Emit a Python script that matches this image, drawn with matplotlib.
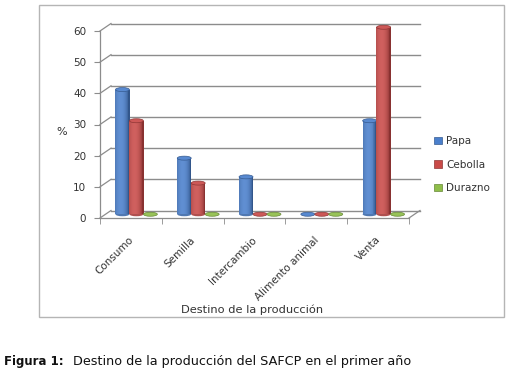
import numpy as np
import matplotlib
matplotlib.use("Agg")
import matplotlib.pyplot as plt
import matplotlib.transforms as mtransforms
from matplotlib.patches import Ellipse, Rectangle, Patch
from matplotlib.lines import Line2D
import matplotlib.colors as mcolors

categories = ["Consumo", "Semilla", "Intercambio", "Alimento animal", "Venta"]
series_names = ["Papa", "Cebolla", "Durazno"]
papa = [40, 18, 12, 0, 30]
cebolla = [30, 10, 0, 0, 60]
durazno = [0, 0, 0, 0, 0]
yticks = [0, 10, 20, 30, 40, 50, 60]
ylabel = "%"
xlabel = "Destino de la producción"
caption_bold = "Figura 1:"
caption = "Destino de la producción del SAFCP en el primer año"

colors = ["#4A7FCC", "#C94A48", "#8FBE4A"]

W, H = 518, 379
DPI = 100
fig = plt.figure(figsize=(W / DPI, H / DPI), dpi=DPI)

def fx(px):
    return px / W

def fy(py):
    return 1 - py / H

# front plane of the axes
x0, x1 = 100, 409
y0, y1 = 218, 31
ax = fig.add_axes([fx(x0), fy(y0), fx(x1) - fx(x0), fy(y1) - fy(y0)])
ax.set_xlim(-0.5, 4.5)
ax.set_ylim(0, 60)
ax.patch.set_visible(False)

txtc = "#333333"
gridc = "#8c8c8c"
for s in ["top", "right"]:
    ax.spines[s].set_visible(False)
for s in ["left", "bottom"]:
    ax.spines[s].set_color(gridc)
    ax.spines[s].set_linewidth(0.9)

ax.set_yticks(yticks)
ax.set_yticklabels([str(v) for v in yticks], fontsize=7.5, color=txtc)
ax.tick_params(axis="y", direction="out", length=4, color=gridc, pad=6)
ax.set_xticks(np.arange(len(categories)) - 0.04)
ax.set_xticklabels(categories, rotation=45, ha="right", va="top",
                   rotation_mode="anchor", fontsize=7.5, color=txtc)
ax.tick_params(axis="x", which="major", length=0, pad=12)
ax.set_xticks(np.arange(-0.5, 4.6, 1.0), minor=True)
ax.tick_params(axis="x", which="minor", direction="out", length=4, color=gridc)

DX, DY = 11, 7.5
back = mtransforms.offset_copy(ax.transData, fig=fig, x=DX, y=DY, units="dots")
mid = mtransforms.offset_copy(ax.transData, fig=fig, x=DX / 2, y=DY / 2, units="dots")

# back wall gridlines
for v in yticks:
    ax.plot([-0.5, 4.5], [v, v], color=gridc, lw=1.0, transform=back,
            zorder=1, clip_on=False)

# left wall diagonals and floor right edge
inv = fig.transFigure.inverted()
def diag(xv, yv):
    p = ax.transData.transform((xv, yv))
    q = p + np.array([DX, DY])
    a = inv.transform(p)
    b = inv.transform(q)
    fig.add_artist(Line2D([a[0], b[0]], [a[1], b[1]], color=gridc, lw=0.9,
                          transform=fig.transFigure, zorder=1))

for v in yticks:
    diag(-0.5, v)
diag(4.5, 0)

# bars as shaded cylinders
w = 0.226
offsets = [-w, 0, w]
nstrip = 14

def shade(c, t):
    base = np.array(mcolors.to_rgb(c))
    k = np.cos((t - 0.4) * np.pi * 0.9)
    dark = base * 0.68
    light = np.clip(base + (1 - base) * 0.12, 0, 1)
    col = dark + (light - dark) * max(k, 0) ** 0.6
    return np.clip(col, 0, 1)

all_series = [papa, cebolla, durazno]
eh = 4.0 / ((y0 - y1) / 60.0)
for si, vals in enumerate(all_series):
    c = colors[si]
    xs = np.arange(len(categories)) + offsets[si]
    for xc, v in zip(xs, vals):
        zb = 3 + si * 0.01
        if v > 0:
            ax.add_patch(Ellipse((xc, 0), w, eh, facecolor=shade(c, 0.5) * 0.85,
                                 edgecolor="none", transform=mid, zorder=zb,
                                 clip_on=False))
            sw = w / nstrip
            for k in range(nstrip):
                t = (k + 0.5) / nstrip
                ax.bar(xc - w / 2 + (k + 0.5) * sw, v, width=sw * 1.25,
                       color=shade(c, t), linewidth=0, transform=mid,
                       zorder=zb + 0.001, clip_on=False)
        capc = np.clip(np.array(mcolors.to_rgb(c)) * 0.92 + 0.08, 0, 1)
        ax.add_patch(Ellipse((xc, v), w, eh, facecolor=capc,
                             edgecolor=shade(c, 0.95), lw=0.5,
                             transform=mid, zorder=zb + 0.002, clip_on=False))

fig.text(fx(62), fy(132), ylabel, fontsize=8, color=txtc, ha="center", va="center")
fig.text(fx(252), fy(310), xlabel, fontsize=8.2, color=txtc, ha="center", va="center")

handles = [Patch(facecolor=colors[i], edgecolor=shade(colors[i], 0.95), lw=0.5)
           for i in range(3)]
fig.legend(handles, series_names, loc="upper left",
           bbox_to_anchor=(fx(434), fy(136)), frameon=False, fontsize=7.5,
           handlelength=0.75, handleheight=0.75, handletextpad=0.4,
           labelspacing=1.3, borderaxespad=0, borderpad=0, labelcolor=txtc)

# chart frame
fig.add_artist(Rectangle((fx(39), fy(317)), fx(504) - fx(39), fy(5) - fy(317),
                         transform=fig.transFigure, fill=False,
                         edgecolor="#b5b5b5", lw=1.0))

fig.text(fx(4), fy(361), caption_bold, fontsize=8.5, fontweight="bold",
         color="#111111", ha="left", va="center")
fig.text(fx(73), fy(361), caption, fontsize=9.2, color="#111111",
         ha="left", va="center")

fig.savefig("out.png", dpi=DPI)
